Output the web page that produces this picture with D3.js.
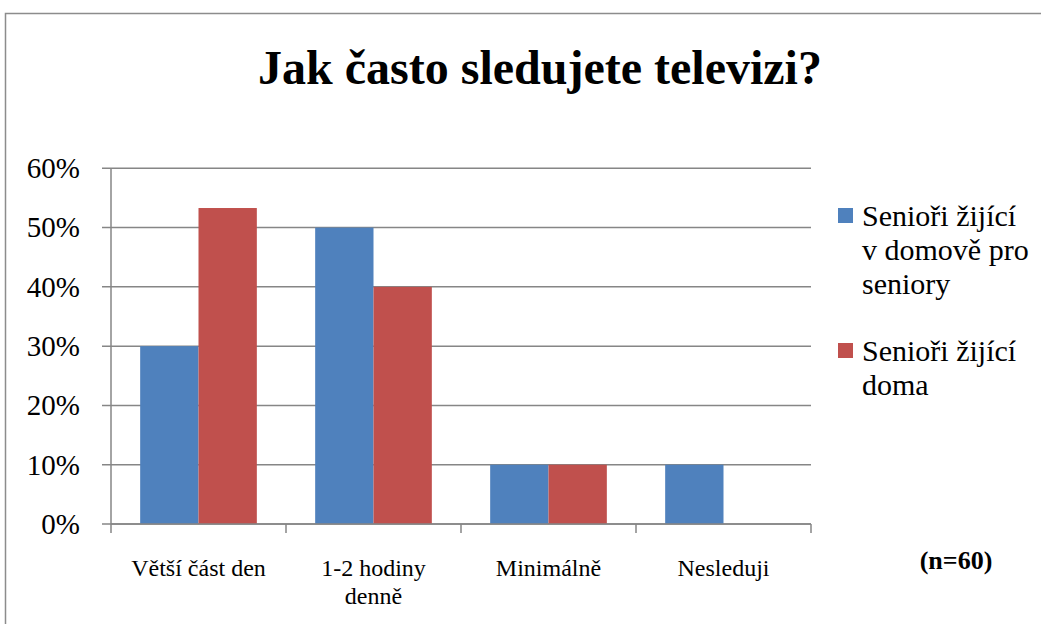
<!DOCTYPE html>
<html><head><meta charset="utf-8">
<script src="https://cdn.jsdelivr.net/npm/d3@7"></script>
</head><body style="margin:0">
<svg id="c" width="1041" height="624" style="font-family:'Liberation Serif','Times New Roman',serif"></svg>
<script>
const categories = [["Větší část den"], ["1-2 hodiny", "denně"], ["Minimálně"], ["Nesleduji"]];
const seriesNames = [["Senioři žijící", "v domově pro", "seniory"], ["Senioři žijící", "doma"]];
const homeValues = [30, 50, 10, 10];
const domaValues = [53.3, 40, 10, 0];
const yTicks = [0, 10, 20, 30, 40, 50, 60];
const colors = ["#4F81BD", "#C0504D"];
const FONT = "'Liberation Serif', 'Times New Roman', serif";

const svg = d3.select("#c");
svg.append("rect").attr("x", 5.5).attr("y", 13.5).attr("width", 1200).attr("height", 800)
  .attr("fill", "none").attr("stroke", "#8c8c8c").attr("stroke-width", 1.5);

svg.append("text").attr("x", 540).attr("y", 84).attr("text-anchor", "middle")
  .style("font-family", FONT).attr("font-size", 48).attr("font-weight", "bold").text("Jak často sledujete televizi?");

const L = 111, R = 811, T = 168.3, B = 524;
const keys = categories.map((c, i) => i);
const x0 = d3.scaleBand().domain(keys).range([L, R]).paddingInner(1/3).paddingOuter(1/6);
const x1 = d3.scaleBand().domain([0, 1]).range([0, x0.bandwidth()]);
const y = d3.scaleLinear().domain([0, 60]).range([B, T]);
const gridColor = "#868686";

svg.append("g").selectAll("line").data(yTicks).join("line")
  .attr("x1", L - 9).attr("x2", R).attr("y1", d => y(d)).attr("y2", d => y(d))
  .attr("stroke", gridColor).attr("stroke-width", 1.5);
svg.append("line").attr("x1", L).attr("x2", L).attr("y1", T).attr("y2", B)
  .attr("stroke", gridColor).attr("stroke-width", 1.5);
svg.append("g").selectAll("text").data(yTicks).join("text")
  .attr("x", 80).attr("y", d => y(d)).attr("dy", "0.34em").attr("text-anchor", "end")
  .style("font-family", FONT).attr("font-size", 29).text(d => d + "%");

const series = [homeValues, domaValues];
series.forEach((vals, si) => {
  svg.append("g").selectAll("rect").data(vals).join("rect")
    .attr("x", (d, i) => x0(i) + x1(si)).attr("width", x1.bandwidth())
    .attr("y", d => y(d)).attr("height", d => B - y(d))
    .attr("fill", colors[si]);
});

svg.append("line").attr("x1", L).attr("x2", R).attr("y1", B).attr("y2", B)
  .attr("stroke", gridColor).attr("stroke-width", 1.5);
const step = x0.step();
const tickXs = d3.range(categories.length + 1).map(i => L + i * step);
svg.append("g").selectAll("line").data(tickXs).join("line")
  .attr("x1", d => d).attr("x2", d => d).attr("y1", B).attr("y2", B + 9)
  .attr("stroke", gridColor).attr("stroke-width", 1.5);
const xl = svg.append("g").selectAll("text").data(categories).join("text")
  .attr("x", (d, i) => x0(i) + x0.bandwidth() / 2).attr("y", 576)
  .attr("text-anchor", "middle").style("font-family", FONT).attr("font-size", 24);
xl.selectAll("tspan").data(d => d).join("tspan")
  .attr("x", function() { return this.parentNode.getAttribute("x"); })
  .attr("dy", (d, i) => i ? 28 : 0).text(d => d);

svg.append("text").attr("x", 956).attr("y", 569).attr("text-anchor", "middle")
  .style("font-family", FONT).attr("font-size", 26).attr("font-weight", "bold").text("(n=60)");

const legY = [208, 343];
seriesNames.forEach((lines, i) => {
  svg.append("rect").attr("x", 838).attr("y", legY[i]).attr("width", 15).attr("height", 15).attr("fill", colors[i]);
  const t = svg.append("text").attr("x", 862).attr("y", legY[i] + 18).style("font-family", FONT).attr("font-size", 30);
  t.selectAll("tspan").data(lines).join("tspan").attr("x", 862).attr("dy", (d, j) => j ? 34 : 0).text(d => d);
});
</script></body></html>
